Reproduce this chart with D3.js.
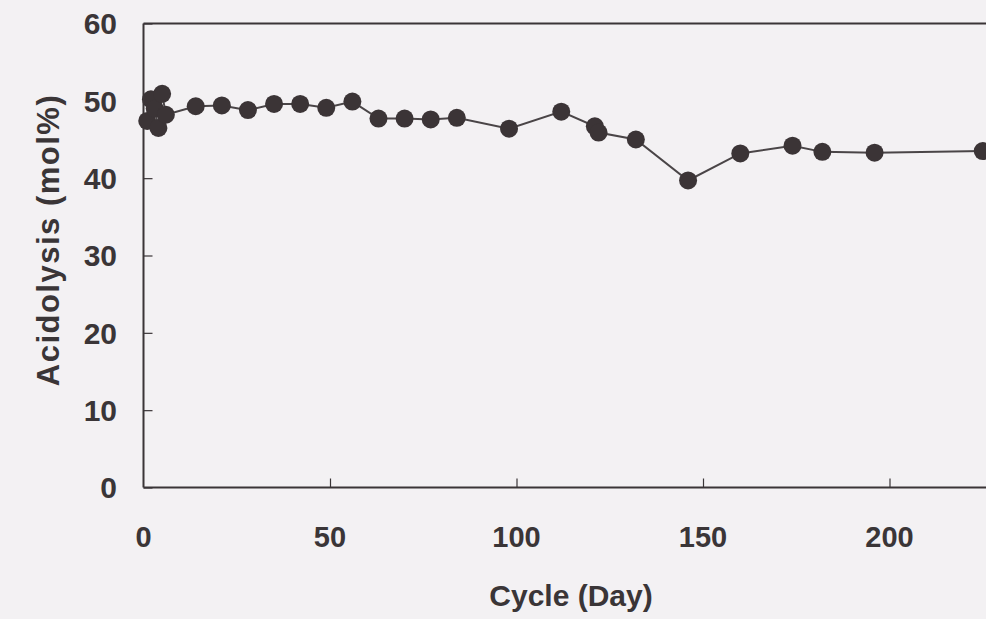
<!DOCTYPE html>
<html>
<head>
<meta charset="utf-8">
<script src="https://cdn.jsdelivr.net/npm/d3@7/dist/d3.min.js"></script>
<style>
  html, body { margin: 0; padding: 0; background: #f3f1f3; overflow: hidden; }
  svg { display: block; }
  text { font-family: "Liberation Sans", Arial, sans-serif; font-weight: bold; fill: #3a3537; }
</style>
</head>
<body>
<svg id="chart" width="986" height="619"></svg>
<script>
// Acidolysis (mol%) measured over repeated cycles
const cycleDays = [1, 2, 3, 4, 5, 6, 14, 21, 28, 35, 42, 49, 56, 63, 70, 77, 84, 98, 112, 121, 122, 132, 146, 160, 174, 182, 196, 225];
const acidolysis = [47.4, 50.2, 49.0, 46.5, 50.9, 48.2, 49.3, 49.4, 48.8, 49.6, 49.6, 49.1, 49.9, 47.7, 47.7, 47.6, 47.8, 46.4, 48.6, 46.7, 45.9, 45.0, 39.7, 43.2, 44.2, 43.4, 43.3, 43.5];
const xTicks = [0, 50, 100, 150, 200];
const yTicks = [0, 10, 20, 30, 40, 50, 60];

const svg = d3.select("#chart");
const ink = "#3a3537";

const plotLeft = 143.5, plotTop = 23.5, plotBottom = 487.5;
const x = d3.scaleLinear().domain([0, 250]).range([plotLeft, plotLeft + 250 * 3.73]);
const y = d3.scaleLinear().domain([0, 60]).range([plotBottom, plotTop]);

// frame: left, bottom and top edges
svg.append("line").attr("x1", plotLeft).attr("x2", plotLeft).attr("y1", plotTop).attr("y2", plotBottom)
  .attr("stroke", ink).attr("stroke-width", 2);
svg.append("line").attr("x1", plotLeft).attr("x2", x(250)).attr("y1", plotBottom).attr("y2", plotBottom)
  .attr("stroke", ink).attr("stroke-width", 2);
svg.append("line").attr("x1", plotLeft).attr("x2", x(250)).attr("y1", plotTop).attr("y2", plotTop)
  .attr("stroke", ink).attr("stroke-width", 2);

// y axis: inward ticks, labels on the left
const yAxis = svg.append("g").attr("transform", `translate(${plotLeft},0)`)
  .call(d3.axisRight(y).tickValues(yTicks).tickSize(9).tickFormat(""));
yAxis.select(".domain").remove();
yAxis.selectAll(".tick line").attr("stroke", ink).attr("stroke-width", 1.2);
svg.append("g").selectAll("text").data(yTicks).join("text")
  .attr("x", 117).attr("y", d => y(d)).attr("dy", "0.36em")
  .attr("text-anchor", "end").attr("font-size", 30).text(d => d);

// x axis: inward ticks, labels below
const xAxis = svg.append("g").attr("transform", `translate(0,${plotBottom})`)
  .call(d3.axisTop(x).tickValues(xTicks.filter(d => d > 0)).tickSize(9).tickFormat(""));
xAxis.select(".domain").remove();
xAxis.selectAll(".tick line").attr("stroke", ink).attr("stroke-width", 1.2);
svg.append("g").selectAll("text").data(xTicks).join("text")
  .attr("x", d => x(d)).attr("y", 547)
  .attr("text-anchor", "middle").attr("font-size", 29).text(d => d);

// axis titles
svg.append("text").attr("x", 571).attr("y", 606).attr("text-anchor", "middle")
  .attr("font-size", 30).text("Cycle (Day)");
svg.append("text").attr("transform", "translate(59,240) rotate(-90)").attr("text-anchor", "middle")
  .attr("font-size", 31).attr("letter-spacing", 1.5).text("Acidolysis (mol%)");

// series line and markers
const pts = cycleDays.map((d, i) => [d, acidolysis[i]]);
svg.append("path").datum(pts)
  .attr("d", d3.line().x(d => x(d[0])).y(d => y(d[1])))
  .attr("fill", "none").attr("stroke", "#4a4547").attr("stroke-width", 2);
svg.append("g").selectAll("circle").data(pts).join("circle")
  .attr("cx", d => x(d[0])).attr("cy", d => y(d[1])).attr("r", 9)
  .attr("fill", "#3b3436");
</script>
</body>
</html>
